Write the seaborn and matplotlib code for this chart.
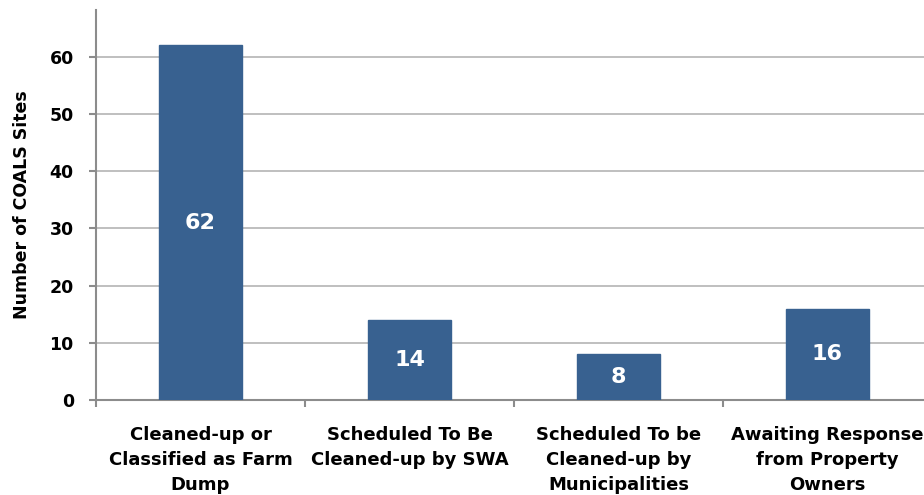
import matplotlib
matplotlib.use("Agg")
import matplotlib.pyplot as plt
import seaborn as sns

# data
categories = ["Cleaned-up or Classified as Farm Dump",
              "Scheduled To Be Cleaned-up by SWA",
              "Scheduled To be Cleaned-up by Municipalities",
              "Awaiting Response from Property Owners"]
tick_labels = ["Cleaned-up or\nClassified as Farm\nDump",
               "Scheduled To Be\nCleaned-up by SWA",
               "Scheduled To be\nCleaned-up by\nMunicipalities",
               "Awaiting Response\nfrom Property\nOwners"]
sites = [62, 14, 8, 16]
y_ticks = [0, 10, 20, 30, 40, 50, 60]

sns.set_style("white", {"xtick.bottom": True, "ytick.left": True})
plt.rcParams["font.family"] = ["DejaVu Sans"]
plt.rcParams["text.color"] = "black"
plt.rcParams["axes.labelcolor"] = "black"

fig = plt.figure(figsize=(9.24, 4.95), dpi=100)
ax = fig.add_axes([96 / 924, 95 / 495, 836 / 924, 390 / 495])

sns.barplot(x=categories, y=sites, color="#386190", saturation=1,
            width=0.4, ax=ax, zorder=3, edgecolor="#386190")

for c in ax.containers:
    ax.bar_label(c, label_type="center", color="white",
                 fontsize=16, fontweight="bold")

ax.set_xlim(-0.5, 3.5)
ax.set_ylim(0, 68.2)
ax.set_yticks(y_ticks)
ax.set_xticks(range(len(categories)))
ax.set_xticklabels(tick_labels, fontsize=13, fontweight="bold",
                   linespacing=1.5, va="top")
ax.set_xticks([-0.5, 0.5, 1.5, 2.5, 3.5], minor=True)
ax.tick_params(axis="x", which="major", bottom=True, length=0, pad=19,
               labelcolor="black")
ax.tick_params(axis="x", which="minor", bottom=True, length=5, width=1.5,
               color="#8c8c8c")
ax.tick_params(axis="y", which="major", left=True, length=5, width=1.5,
               color="#8c8c8c", labelcolor="black", pad=11, labelsize=12.5)
for lab in ax.get_yticklabels():
    lab.set_fontweight("bold")

ax.yaxis.grid(True, color="#b4b4b4", linewidth=1.2, zorder=0)
ax.set_axisbelow(True)
for s in ["top", "right"]:
    ax.spines[s].set_visible(False)
for s in ["left", "bottom"]:
    ax.spines[s].set_color("#8c8c8c")
    ax.spines[s].set_linewidth(1.5)

ax.set_ylabel("Number of COALS Sites", fontsize=12.5, fontweight="bold",
              labelpad=13)
ax.set_xlabel("")

fig.savefig("out.png", dpi=100)
